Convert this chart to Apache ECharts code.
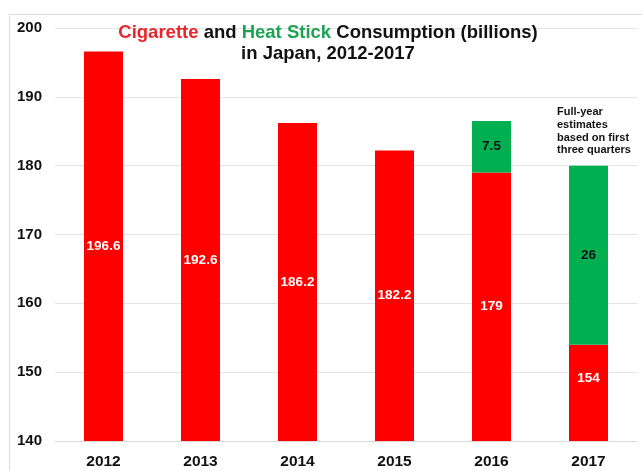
<!DOCTYPE html>
<html><head><meta charset="utf-8">
<script src="https://cdn.jsdelivr.net/npm/echarts@6/dist/echarts.min.js"></script>
<style>html,body{margin:0;padding:0;background:#fff}#c{width:642px;height:471px}</style>
</head><body><div id="c"></div>
<script>
var years = ['2012','2013','2014','2015','2016','2017'];
var cigarettes = [196.6, 192.6, 186.2, 182.2, 179, 154];
var heatSticks = [null, null, null, null, 7.5, 26];
var yTicks = [140, 150, 160, 170, 180, 190, 200];
var note = ['Full-year', 'estimates', 'based on first', 'three quarters'];

var chart = echarts.init(document.getElementById('c'), null, {renderer:'canvas'});
var F = '"Liberation Sans", Arial, sans-serif';
var cigData = cigarettes.map(function(v, i){
  var d = {value: v};
  if (i === 5) d.label = {offset: [0, -15]};
  return d;
});
var TS = 18.5;
chart.setOption({
  backgroundColor: '#fff',
  animation: false,
  graphic: [
    {type: 'rect', shape: {x: 9.5, y: 14.5, width: 700, height: 500}, style: {fill: 'none', stroke: '#dcdcdc', lineWidth: 1}, silent: true, z: -1},
    {type: 'text', x: 328, y: 22, z: 10, style: {
      text: '{r|Cigarette} {k|and} {g|Heat Stick} {k|Consumption (billions)}\n{k|in Japan, 2012-2017}',
      align: 'center', verticalAlign: 'top',
      fontFamily: F, fontSize: TS, fontWeight: 'bold', lineHeight: 21,
      rich: {
        r: {fill: '#e8262b', fontFamily: F, fontSize: TS, fontWeight: 'bold', lineHeight: 21},
        g: {fill: '#1ea355', fontFamily: F, fontSize: TS, fontWeight: 'bold', lineHeight: 21},
        k: {fill: '#111', fontFamily: F, fontSize: TS, fontWeight: 'bold', lineHeight: 21}
      }
    }},
    {type: 'text', left: 557, top: 106, style: {text: note.join('\n'), fontFamily: F, fontSize: 11, fontWeight: 'bold', lineHeight: 12.7, fill: '#111'}}
  ],
  grid: {left: 55, right: 5, top: 28, bottom: 30, containLabel: false},
  xAxis: {
    type: 'category', data: years,
    axisLine: {show: true, lineStyle: {color: '#d9d9d9'}},
    axisTick: {show: false},
    axisLabel: {color: '#111', fontFamily: F, fontSize: 15.5, fontWeight: 'bold', margin: 13}
  },
  yAxis: {
    type: 'value', min: yTicks[0], max: yTicks[yTicks.length-1], interval: 10,
    axisLine: {show: false}, axisTick: {show: false},
    splitLine: {lineStyle: {color: '#e3e3e3'}},
    axisLabel: {color: '#111', fontFamily: F, fontSize: 15, fontWeight: 'bold', margin: 13}
  },
  series: [
    {
      name: 'Cigarette', type: 'bar', stack: 'a', data: cigData, barWidth: 39,
      itemStyle: {color: '#ff0000'},
      label: {show: true, position: 'inside', color: '#fff', fontFamily: F, fontSize: 13.5, fontWeight: 'bold'}
    },
    {
      name: 'Heat Stick', type: 'bar', stack: 'a', data: heatSticks, barWidth: 39,
      itemStyle: {color: '#00b050'},
      label: {show: true, position: 'inside', color: '#111', fontFamily: F, fontSize: 13.5, fontWeight: 'bold'}
    }
  ]
});
</script></body></html>
